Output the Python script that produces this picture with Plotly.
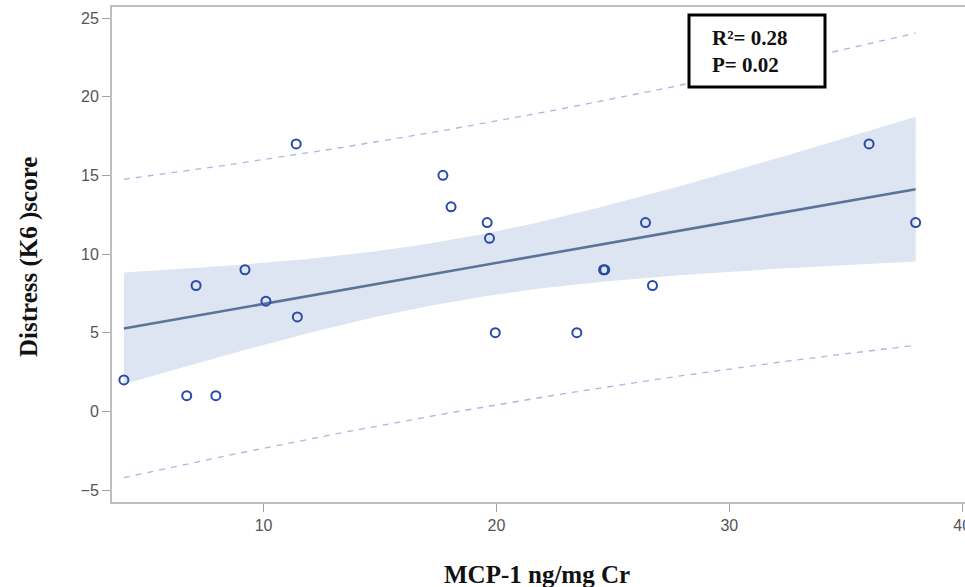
import numpy as np
import plotly.graph_objects as go

# MCP-1 (ng/mg Cr) and distress (K6) score per subject
mcp1 = [4.0, 6.7, 7.1, 7.95, 9.2, 10.1, 11.4, 11.45, 17.7, 18.05,
        19.6, 19.7, 19.95, 23.45, 24.6, 24.65, 26.4, 26.7, 36.0, 38.0]
k6 = [2, 1, 8, 1, 9, 7, 17, 6, 15, 13,
      12, 11, 5, 5, 9, 9, 12, 8, 17, 12]

stats_lines = ["R²= 0.28", "P= 0.02"]
x_ticks = [10, 20, 30, 40]
y_ticks = [-5, 0, 5, 10, 15, 20, 25]

# Ordinary least squares fit with 95% confidence and prediction limits
x = np.array(mcp1, dtype=float)
y = np.array(k6, dtype=float)
n = len(x)
slope, intercept = np.polyfit(x, y, 1)
resid = y - (intercept + slope * x)
s = np.sqrt(np.sum(resid ** 2) / (n - 2))
sxx = np.sum((x - x.mean()) ** 2)
T_CRIT = 2.1009  # two-sided 95% t quantile, 18 df

xs = np.linspace(x.min(), x.max(), 200)
fit = intercept + slope * xs
se_mean = s * np.sqrt(1.0 / n + (xs - x.mean()) ** 2 / sxx)
se_pred = s * np.sqrt(1.0 + 1.0 / n + (xs - x.mean()) ** 2 / sxx)
ci_lo, ci_hi = fit - T_CRIT * se_mean, fit + T_CRIT * se_mean
pi_lo, pi_hi = fit - T_CRIT * se_pred, fit + T_CRIT * se_pred

fig = go.Figure()

# confidence band
fig.add_trace(go.Scatter(
    x=np.concatenate([xs, xs[::-1]]),
    y=np.concatenate([ci_hi, ci_lo[::-1]]),
    fill="toself", fillcolor="#DCE5F1", line=dict(width=0),
    mode="lines", hoverinfo="skip", showlegend=False))

# prediction limits
for band in (pi_hi, pi_lo):
    fig.add_trace(go.Scatter(
        x=xs, y=band, mode="lines",
        line=dict(color="#B3B3E2", width=1.3, dash="6px,6px"),
        hoverinfo="skip", showlegend=False))

# regression line
fig.add_trace(go.Scatter(
    x=xs, y=fit, mode="lines",
    line=dict(color="#5C7399", width=2.6),
    showlegend=False))

# observations
fig.add_trace(go.Scatter(
    x=mcp1, y=k6, mode="markers",
    marker=dict(symbol="circle-open", size=9, color="#2A4AA8",
                line=dict(width=2, color="#2A4AA8")),
    showlegend=False))

W, H = 965, 587
L, R, T, B = 112, 0, 7, 85
pw, ph = W - L - R, H - T - B

axis_common = dict(
    showgrid=False, zeroline=False, showline=True, linecolor="#BEBEBE",
    linewidth=2, mirror=True, ticks="outside", ticklen=8, tickwidth=1,
    tickcolor="#A0A0A0", ticklabeloverflow="allow", automargin=False,
    tickfont=dict(family="Liberation Sans, Arial, sans-serif", size=16, color="#555555"),
)

fig.update_layout(
    width=W, height=H,
    margin=dict(l=L, r=R, t=T, b=B, autoexpand=False),
    plot_bgcolor="white", paper_bgcolor="white",
    xaxis=dict(range=[3.49, 40.12], tickvals=x_ticks, **axis_common),
    yaxis=dict(range=[-5.76, 25.7], tickvals=y_ticks, **axis_common),
)

title_font = dict(family="Liberation Serif, Times New Roman, serif", size=25, color="#111111")

fig.add_annotation(
    text="<b>MCP-1 ng/mg Cr</b>", xref="paper", yref="paper",
    x=(537 - L) / pw, y=(H - B - 574) / ph, xanchor="center", yanchor="middle",
    showarrow=False, font=title_font)

fig.add_annotation(
    text="<b>Distress (K6 )score</b>", xref="paper", yref="paper",
    x=(29 - L) / pw, y=(H - B - 257) / ph, xanchor="center", yanchor="middle",
    textangle=-90, showarrow=False, font=title_font)

# statistics box
fig.add_shape(
    type="rect", xref="paper", yref="paper",
    x0=(689 - L) / pw, x1=(825 - L) / pw,
    y0=(H - B - 87) / ph, y1=(H - B - 15) / ph,
    line=dict(color="black", width=3), fillcolor="white", layer="above")

fig.add_annotation(
    text="<b>" + "<br>".join(stats_lines) + "</b>", xref="paper", yref="paper",
    x=(710 - L) / pw, y=(H - B - 51) / ph, xanchor="left", yanchor="middle",
    align="left", showarrow=False,
    font=dict(family="Liberation Serif, Times New Roman, serif", size=21, color="#111111"))

fig.write_html("out.html")
